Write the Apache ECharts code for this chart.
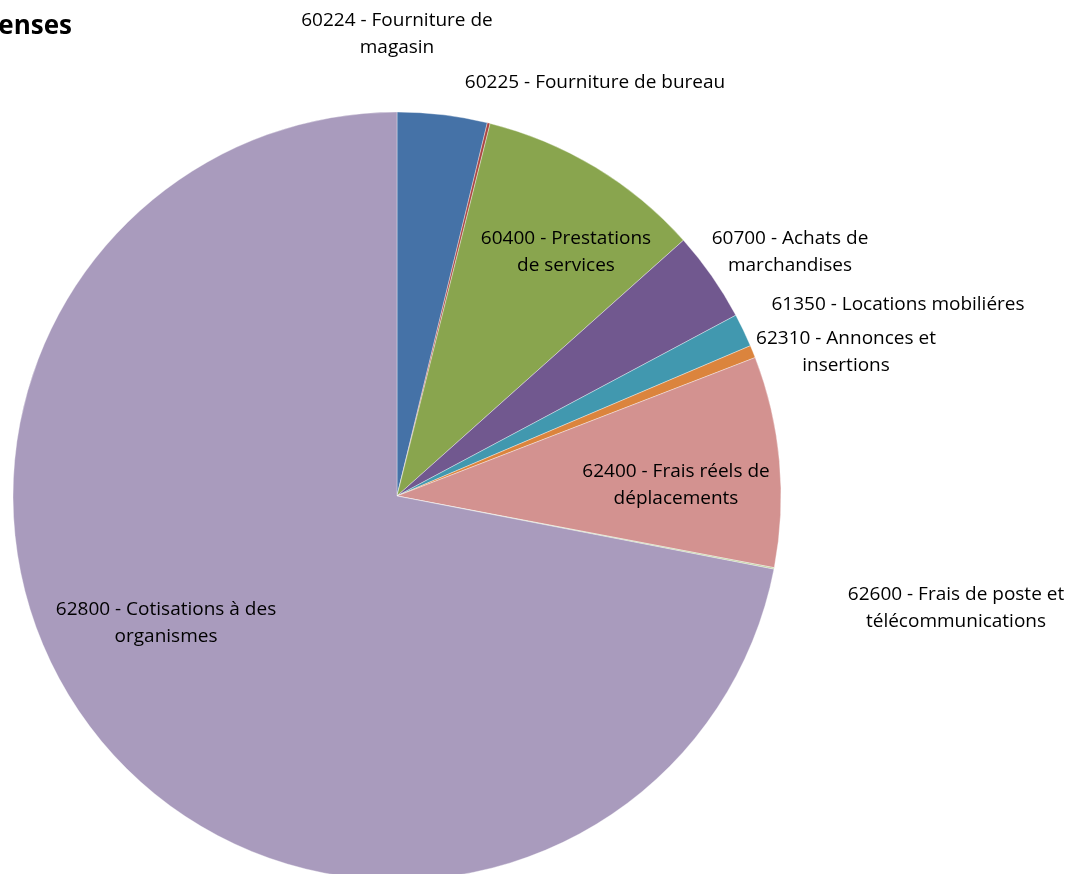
<!DOCTYPE html>
<html><head><meta charset="utf-8">
<script src="https://cdn.jsdelivr.net/npm/echarts@6/dist/echarts.min.js"></script>
<style>html,body{margin:0;padding:0;background:#fff}#c{width:1084px;height:874px}</style>
</head><body><div id="c"></div>
<script>
var categories = [
  "60224 - Fourniture de\nmagasin",
  "60225 - Fourniture de bureau",
  "60400 - Prestations\nde services",
  "60700 - Achats de\nmarchandises",
  "61350 - Locations mobiliéres",
  "62310 - Annonces et\ninsertions",
  "62400 - Frais réels de\ndéplacements",
  "62600 - Frais de poste et\ntélécommunications",
  "62800 - Cotisations à des\norganismes"
];
var values = [3.78, 0.12, 9.5, 3.8, 1.4, 0.53, 8.86, 0.06, 71.95];
var colors = ["#4572A7","#AA4643","#89A54E","#71588F","#4198AF","#DB843D","#D39290","#B8CC94","#A99BBD"];
var labelPos = [[397,34],[595,83],[566,252],[790,252],[898,305],[846,352],[676,485],[956,608],[166,623]];

var chart = echarts.init(document.getElementById('c'));
chart.setOption({
  animation: false,
  graphic: [{type:'text', x: 72, y: 14, style:{text:'Dépenses', font:'bold 26px "Open Sans", "Liberation Sans", sans-serif', fill:'#000', textAlign:'right'}}],
  series: [{
    type: 'pie',
    center: [397, 496],
    radius: 384,
    startAngle: 90,
    clockwise: true,
    avoidLabelOverlap: false,
    itemStyle: {borderColor:'rgba(255,255,255,0.6)', borderWidth: 0.6},
    label: {show:true, color:'#000', fontSize:19, lineHeight:27, fontFamily:'"Open Sans", sans-serif', align:'center', formatter:'{b}'},
    labelLine: {show:false},
    labelLayout: function(p){ var q = labelPos[p.dataIndex]; return {x:q[0], y:q[1], align:'center', verticalAlign:'middle'}; },
    data: categories.map(function(c,i){ return {name:c, value:values[i], itemStyle:{color:colors[i]}}; })
  }]
});
</script></body></html>
